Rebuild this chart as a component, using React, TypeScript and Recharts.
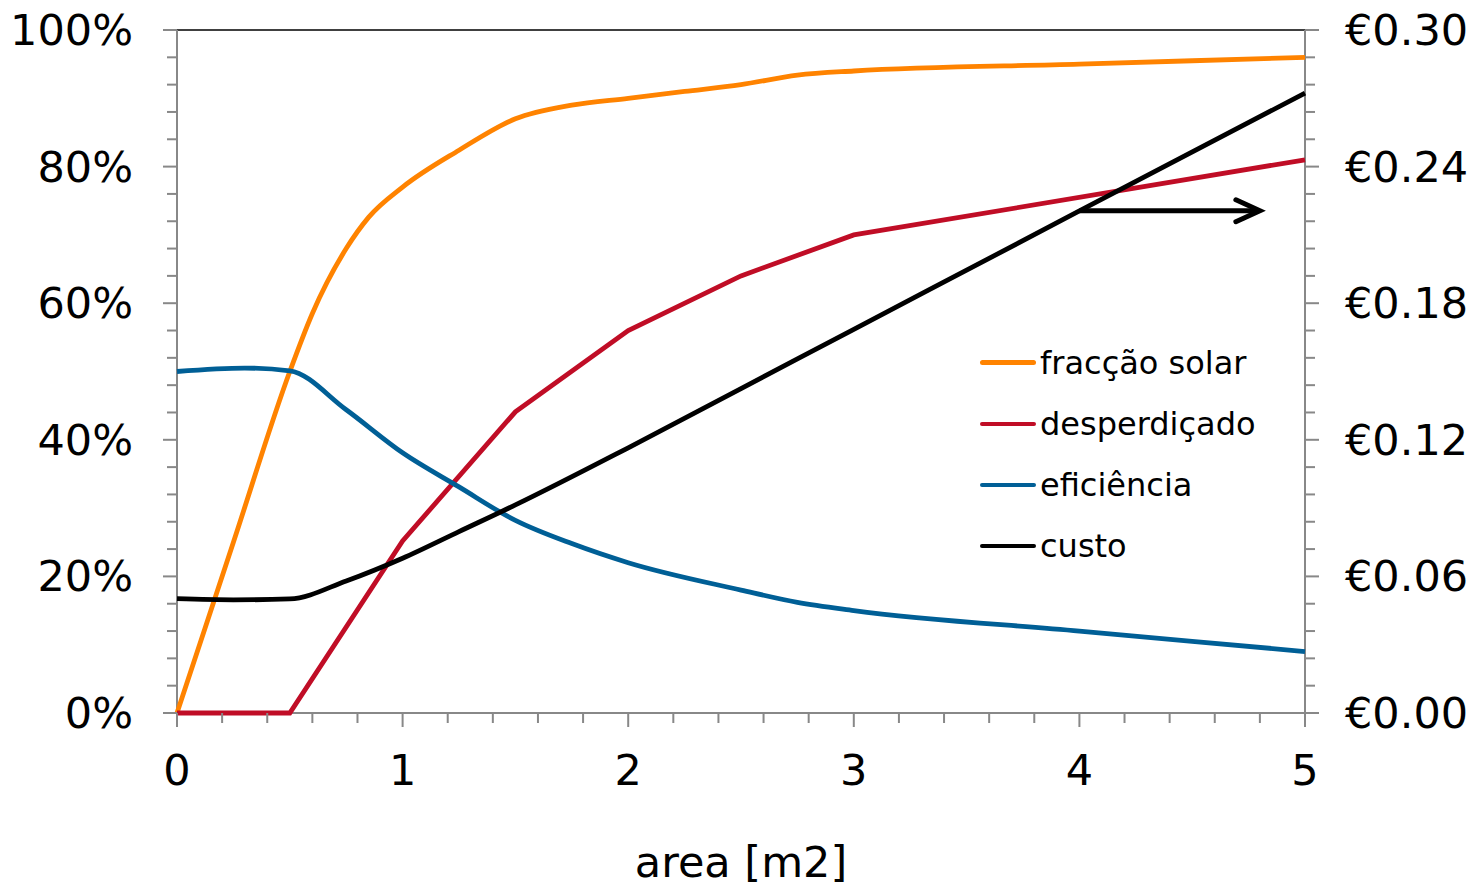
import React from 'react';
import { LineChart, Line, XAxis, YAxis, ReferenceLine, Label } from 'recharts';

// ---- data ----
const fraccaoX = [0, 0.25, 0.5, 0.6, 0.75, 0.85, 1, 1.25, 1.5, 1.75, 2, 2.25, 2.5, 2.75, 3, 4, 5];
const fraccaoY = [0, 25, 50, 58.5, 68, 72.6, 77, 82.4, 87, 89, 90, 91, 92, 93.4, 94, 95, 96];

const desperdX = [0, 0.5, 1, 1.5, 2, 2.5, 3, 5];
const desperdY = [0, 0, 25.2, 44.1, 56, 64, 70, 81];

const eficX = [0, 0.3, 0.5, 0.75, 1, 1.25, 1.5, 1.75, 2, 2.5, 2.75, 3, 4, 5];
const eficY = [50, 50.5, 50.1, 44.4, 38.1, 33.1, 28.2, 24.8, 22, 18, 16.2, 15, 12, 9];

const custoX = [0, 0.25, 0.5, 0.75, 1, 1.25, 1.5, 2, 2.5, 3, 4, 5];
const custoY = [0.0502, 0.0497, 0.0501, 0.058, 0.068, 0.0797, 0.0914, 0.1165, 0.1425, 0.1685, 0.2205, 0.2723];

const xTicks = [0, 0.2, 0.4, 0.6, 0.8, 1, 1.2, 1.4, 1.6, 1.8, 2, 2.2, 2.4, 2.6, 2.8, 3, 3.2, 3.4, 3.6, 3.8, 4, 4.2, 4.4, 4.6, 4.8, 5];
const xLabels = [0, 1, 2, 3, 4, 5];
const leftTicks = [0, 4, 8, 12, 16, 20, 24, 28, 32, 36, 40, 44, 48, 52, 56, 60, 64, 68, 72, 76, 80, 84, 88, 92, 96, 100];
const leftLabels = [0, 20, 40, 60, 80, 100];
const rightTicks = [0, 0.012, 0.024, 0.036, 0.048, 0.06, 0.072, 0.084, 0.096, 0.108, 0.12, 0.132, 0.144, 0.156, 0.168, 0.18, 0.192, 0.204, 0.216, 0.228, 0.24, 0.252, 0.264, 0.276, 0.288, 0.3];
const rightLabels = [0, 0.06, 0.12, 0.18, 0.24, 0.3];

const arrowX = [4.0, 4.8];
const arrowY = 0.2206;

const seriesNames = ['fracção solar', 'desperdiçado', 'eficiência', 'custo'];
const seriesColors = ['#FF8300', '#C00D26', '#005F96', '#000000'];

const toData = (xs: number[], ys: number[]) => xs.map((x, i) => ({ x, y: ys[i] }));
const fraccaoData = toData(fraccaoX, fraccaoY);
const desperdData = toData(desperdX, desperdY);
const eficData = toData(eficX, eficY);
const custoData = toData(custoX, custoY);

const FONT = 'DejaVu Sans, Verdana, sans-serif';
const AXIS = '#888888';
const SW = 4.8;

const isIn = (v: number, arr: number[]) => arr.some((a) => Math.abs(a - v) < 1e-6);

const XTick = (props: any) => {
  const { x, y, payload } = props;
  const v = payload.value;
  const major = isIn(v, xLabels);
  return (
    <g>
      <line x1={x} x2={x} y1={y} y2={y + (major ? 14 : 10)} stroke={AXIS} strokeWidth={2} />
      {major && (
        <text x={x} y={y + 72} textAnchor="middle" fontSize={43} fontFamily={FONT} fill="#000">
          {v}
        </text>
      )}
    </g>
  );
};

const LeftTick = (props: any) => {
  const { x, y, payload } = props;
  const v = payload.value;
  const major = isIn(v, leftLabels);
  return (
    <g>
      <line x1={x - (major ? 14 : 10)} x2={x} y1={y} y2={y} stroke={AXIS} strokeWidth={2} />
      {major && (
        <text x={x - 44} y={y + 15} textAnchor="end" fontSize={43} fontFamily={FONT} fill="#000">
          {`${Math.round(v)}%`}
        </text>
      )}
    </g>
  );
};

const RightTick = (props: any) => {
  const { x, y, payload } = props;
  const v = payload.value;
  const major = isIn(v, rightLabels);
  return (
    <g>
      <line x1={x} x2={x + (major ? 14 : 10)} y1={y} y2={y} stroke={AXIS} strokeWidth={2} />
      {major && (
        <text x={x + 40} y={y + 15} textAnchor="start" fontSize={43} fontFamily={FONT} fill="#000">
          {`€${v.toFixed(2)}`}
        </text>
      )}
    </g>
  );
};

const XTitle = (props: any) => {
  const vb = props.viewBox || {};
  return (
    <text x={vb.x + vb.width / 2} y={vb.y + 164} textAnchor="middle" fontSize={43} fontFamily={FONT} fill="#000">
      area [m2]
    </text>
  );
};

const ArrowShape = (props: any) => {
  const { x1, y1, x2, y2 } = props;
  return (
    <g>
      <line x1={x1} y1={y1} x2={x2 - 2} y2={y2} stroke="#000" strokeWidth={SW} />
      <polyline
        points={`${x2 - 24},${y2 - 11} ${x2},${y2} ${x2 - 24},${y2 + 11}`}
        fill="none"
        stroke="#000"
        strokeWidth={5}
        strokeLinecap="round"
        strokeLinejoin="miter"
      />
    </g>
  );
};

const legendRows = [362.5, 424, 485, 546];

const lineCommon: any = {
  dot: false,
  activeDot: false,
  isAnimationActive: false,
  strokeWidth: SW,
  zIndex: 900,
};

export default function App() {
  return (
    <div style={{ position: 'absolute', left: 0, top: 0, width: 1473, height: 886, background: '#fff' }}>
      <LineChart width={1473} height={886} margin={{ top: 30, right: 0, bottom: 0, left: 0 }}>
        <XAxis
          dataKey="x"
          type="number"
          domain={[0, 5]}
          ticks={xTicks}
          interval={0}
          height={173}
          tickSize={0}
          tickMargin={0}
          tickLine={false}
          axisLine={{ stroke: AXIS, strokeWidth: 2 }}
          tick={<XTick />}
        >
          <Label content={<XTitle />} />
        </XAxis>
        <YAxis
          yAxisId="left"
          type="number"
          domain={[0, 100]}
          ticks={leftTicks}
          interval={0}
          width={177}
          tickSize={0}
          tickMargin={0}
          tickLine={false}
          axisLine={{ stroke: AXIS, strokeWidth: 2 }}
          tick={<LeftTick />}
        />
        <YAxis
          yAxisId="right"
          orientation="right"
          type="number"
          domain={[0, 0.3]}
          ticks={rightTicks}
          interval={0}
          width={168}
          tickSize={0}
          tickMargin={0}
          tickLine={false}
          axisLine={{ stroke: AXIS, strokeWidth: 2 }}
          tick={<RightTick />}
        />
        <ReferenceLine yAxisId="left" y={100} stroke="#000" strokeWidth={1.5} />
        <Line
          {...lineCommon}
          yAxisId="left"
          data={fraccaoData}
          dataKey="y"
          name={seriesNames[0]}
          type="monotone"
          stroke={seriesColors[0]}
        />
        <Line
          {...lineCommon}
          yAxisId="left"
          data={desperdData}
          dataKey="y"
          name={seriesNames[1]}
          type="linear"
          stroke={seriesColors[1]}
        />
        <Line
          {...lineCommon}
          yAxisId="left"
          data={eficData}
          dataKey="y"
          name={seriesNames[2]}
          type="monotone"
          stroke={seriesColors[2]}
        />
        <Line
          {...lineCommon}
          yAxisId="right"
          data={custoData}
          dataKey="y"
          name={seriesNames[3]}
          type="monotone"
          stroke={seriesColors[3]}
        />
        <ReferenceLine
          yAxisId="right"
          segment={[
            { x: arrowX[0], y: arrowY },
            { x: arrowX[1], y: arrowY },
          ]}
          shape={<ArrowShape />}
        />
      </LineChart>
      {seriesNames.map((name, i) => (
        <div
          key={name}
          style={{
            position: 'absolute',
            left: 980,
            top: legendRows[i] - 20,
            height: 40,
            display: 'flex',
            alignItems: 'center',
            fontFamily: FONT,
            fontSize: 32,
            color: '#000',
            whiteSpace: 'nowrap',
          }}
        >
          <div style={{ width: 56, height: 4.5, borderRadius: 2.5, background: seriesColors[i], marginRight: 4 }} />
          <span>{name}</span>
        </div>
      ))}
    </div>
  );
}
